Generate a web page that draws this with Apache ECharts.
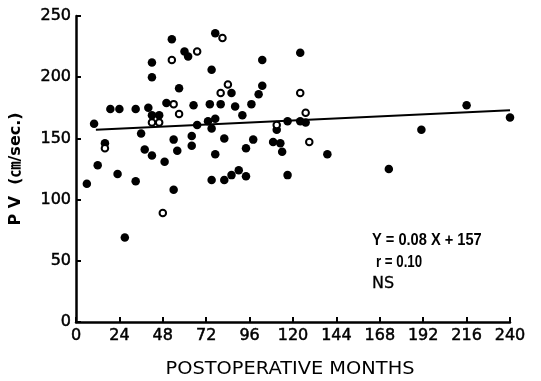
<!DOCTYPE html>
<html>
<head>
<meta charset="utf-8">
<script src="https://cdn.jsdelivr.net/npm/echarts@6/dist/echarts.min.js"></script>
<style>
html,body{margin:0;padding:0;background:#fff;}
#c{width:541px;height:381px;}
</style>
</head>
<body>
<div id="c"></div>
<script>
// Filled circles: [months, PV]
const filledX = [6,10,12,16,19,23,24,27,33,33,36,38,40,42,42,42,42,46,49,50,53,54,54,56,57,60,62,64,64,65,67,74,73,75,75,75,77,77,77,80,82,82,86,86,88,90,92,94,94,97,98,101,103,103,109,111,113,114,117,117,124,124,127,139,173,191,216,240];
const filledY = [113,162,128,146,174,121,174,69,174,115,154,141,175,212,200,169,136,169,131,179,231,149,108,140,191,221,217,152,144,177,161,178,164,206,158,116,166,137,236,178,150,116,187,120,176,124,169,119,142,178,149,186,193,214,147,157,146,139,120,164,220,164,163,137,125,157,177,167];
// Open circles
const openX = [16,42,46,48,53,54,57,67,81,80,84,111,124,127,129];
const openY = [142,163,163,89,214,178,170,221,232,187,194,161,187,171,147];
// Regression line endpoints as drawn
const regX = [11,240];
const regY = [157,173];
const xTicks = [0,24,48,72,96,120,144,168,192,216,240];
const yTicks = [0,50,100,150,200,250];

const zip = (a,b)=>a.map((v,i)=>[v,b[i]]);
const chart = echarts.init(document.getElementById('c'));
const axisFont = {color:'#000', fontFamily:'DejaVu Sans', fontSize:16, textBorderColor:'#000', textBorderWidth:0.5};
const ann = {fill:'#000', fontSize:17, fontWeight:'bold', fontFamily:'Liberation Sans'};
chart.setOption({
  animation:false,
  backgroundColor:'#fff',
  grid:{left:76,right:31,top:16,bottom:59},
  xAxis:{
    type:'value', min:0, max:240, interval:24,
    axisLine:{lineStyle:{color:'#000',width:2.5}},
    axisTick:{inside:true,length:5,lineStyle:{color:'#000',width:2}},
    axisLabel:Object.assign({margin:6, formatter:v=>xTicks.includes(v)?String(v):''},axisFont),
    splitLine:{show:false}
  },
  yAxis:{
    type:'value', min:0, max:250, interval:50,
    axisLine:{show:true,lineStyle:{color:'#000',width:2.5}},
    axisTick:{show:true,inside:true,length:5,lineStyle:{color:'#000',width:2}},
    axisLabel:Object.assign({margin:5, formatter:v=>yTicks.includes(v)?String(v):''},axisFont),
    splitLine:{show:false},
    name:'P V  (㎝/sec.)', nameLocation:'middle', nameGap:52,
    nameTextStyle:{color:'#000',fontFamily:'DejaVu Sans, Noto Sans CJK JP',fontSize:16,fontWeight:'bold'}
  },
  series:[
    {type:'line', data:zip(regX,regY), symbol:'none', lineStyle:{color:'#000',width:2}, z:1},
    {type:'scatter', data:zip(filledX,filledY), symbol:'circle', symbolSize:8.5, itemStyle:{color:'#000',opacity:1}, z:3},
    {type:'scatter', data:zip(openX,openY), symbol:'circle', symbolSize:6.5, itemStyle:{color:'#fff',opacity:1,borderColor:'#000',borderWidth:2}, z:4}
  ],
  graphic:[
    {type:'text', x:372, y:232, scaleX:0.86, style:Object.assign({text:'Y = 0.08 X + 157'},ann)},
    {type:'text', x:376, y:254, scaleX:0.78, style:Object.assign({text:'r = 0.10'},ann)},
    {type:'text', x:372, y:276, style:{text:'NS', fill:'#000', fontSize:16, fontFamily:'DejaVu Sans', stroke:'#000', lineWidth:0.3}},
    {type:'text', x:290, y:370, scaleX:1.14, style:{text:'POSTOPERATIVE MONTHS', fill:'#000', fontSize:17, fontFamily:'DejaVu Sans', align:'center', verticalAlign:'middle'}}
  ]
});
</script>
</body>
</html>
